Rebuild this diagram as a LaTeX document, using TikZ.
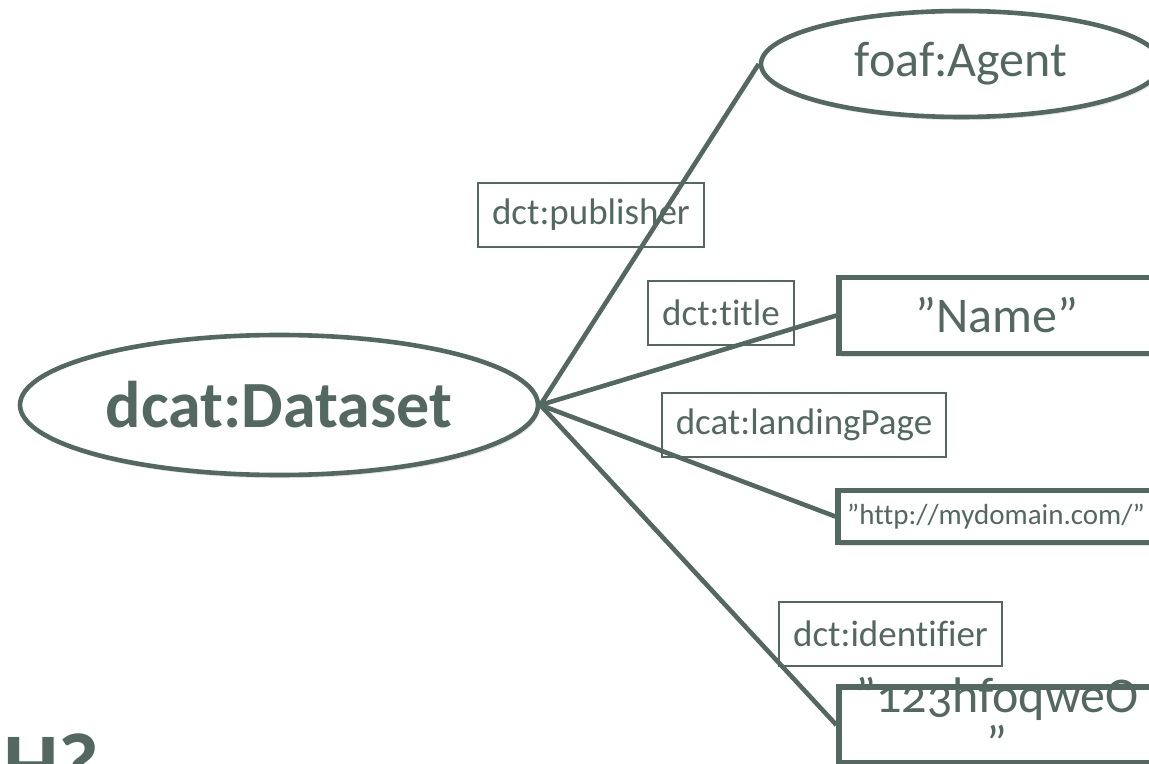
\documentclass[tikz,border=0pt]{standalone}
\usepackage{fontspec}
\setmainfont{Carlito}[Numbers=OldStyle, Ligatures=NoCommon]
\usepackage{xcolor}
\usepackage{tikz}
\usetikzlibrary{shapes.geometric,shadows}
\definecolor{slate}{RGB}{84,104,98}

\begin{document}
\begin{tikzpicture}[x=0.5pt, y=-0.5pt,
  every node/.style={text=slate},
  softshadow/.style={drop shadow={shadow xshift=0.8pt, shadow yshift=-1.6pt, opacity=0.22}},
  classnode/.style={ellipse, draw=slate, line width=2.3pt, fill=white, inner sep=0pt, softshadow},
  valuenode/.style={rectangle, draw=slate, line width=2.6pt, fill=white, inner sep=0pt, softshadow},
  propbox/.style={rectangle, draw=slate, line width=1pt, inner xsep=7pt, minimum height=32pt, font=\fontsize{18.5}{22}\selectfont},
  link/.style={draw=slate, line width=2.3pt}]
  \useasboundingbox (0,0) rectangle (1149,764);
  \clip (0,0) rectangle (1149,764);
  \node[classnode, minimum width=259pt, minimum height=70pt, font=\fontsize{33}{40}\selectfont\bfseries] (dataset) at (279,405) {dcat:Dataset};
  \node[classnode, minimum width=200pt, minimum height=53pt, font=\fontsize{25}{30}\selectfont] (agent) at (961,64) {foaf:Agent};
  \node[valuenode, minimum width=158pt, minimum height=38pt, font=\fontsize{25}{30}\selectfont] (name) at (997,315.5) {”Name”};
  \node[valuenode, minimum width=158pt, minimum height=26pt, font=\fontsize{14.5}{17}\selectfont] (homepage) at (996,516.5) {”http://mydomain.com/”};
  \node[valuenode, minimum width=158pt, minimum height=38pt, font=\fontsize{25}{21}\selectfont] (ident) at (997,725) {\raisebox{-6.5pt}[0pt][0pt]{\begin{tabular}{@{}c@{}}”123hfoqweO\\”\end{tabular}}};
  \node[propbox] (publisher) at (591,215) {dct:publisher};
  \node[propbox] (title) at (721,313) {dct:title};
  \node[propbox] (landing) at (804,425) {dcat:landingPage};
  \node[propbox] (identifier) at (890.5,634) {dct:identifier};
  \draw[link] (dataset.east) -- (agent.west);
  \draw[link] (dataset.east) -- (name.west);
  \draw[link] (dataset.east) -- (homepage.west);
  \draw[link] (dataset.east) -- (ident.west);
  \node[font=\fontsize{44}{50}\selectfont\bfseries, inner sep=0pt, anchor=base west] (question) at (3,794) {H?};
\end{tikzpicture}
\end{document}
